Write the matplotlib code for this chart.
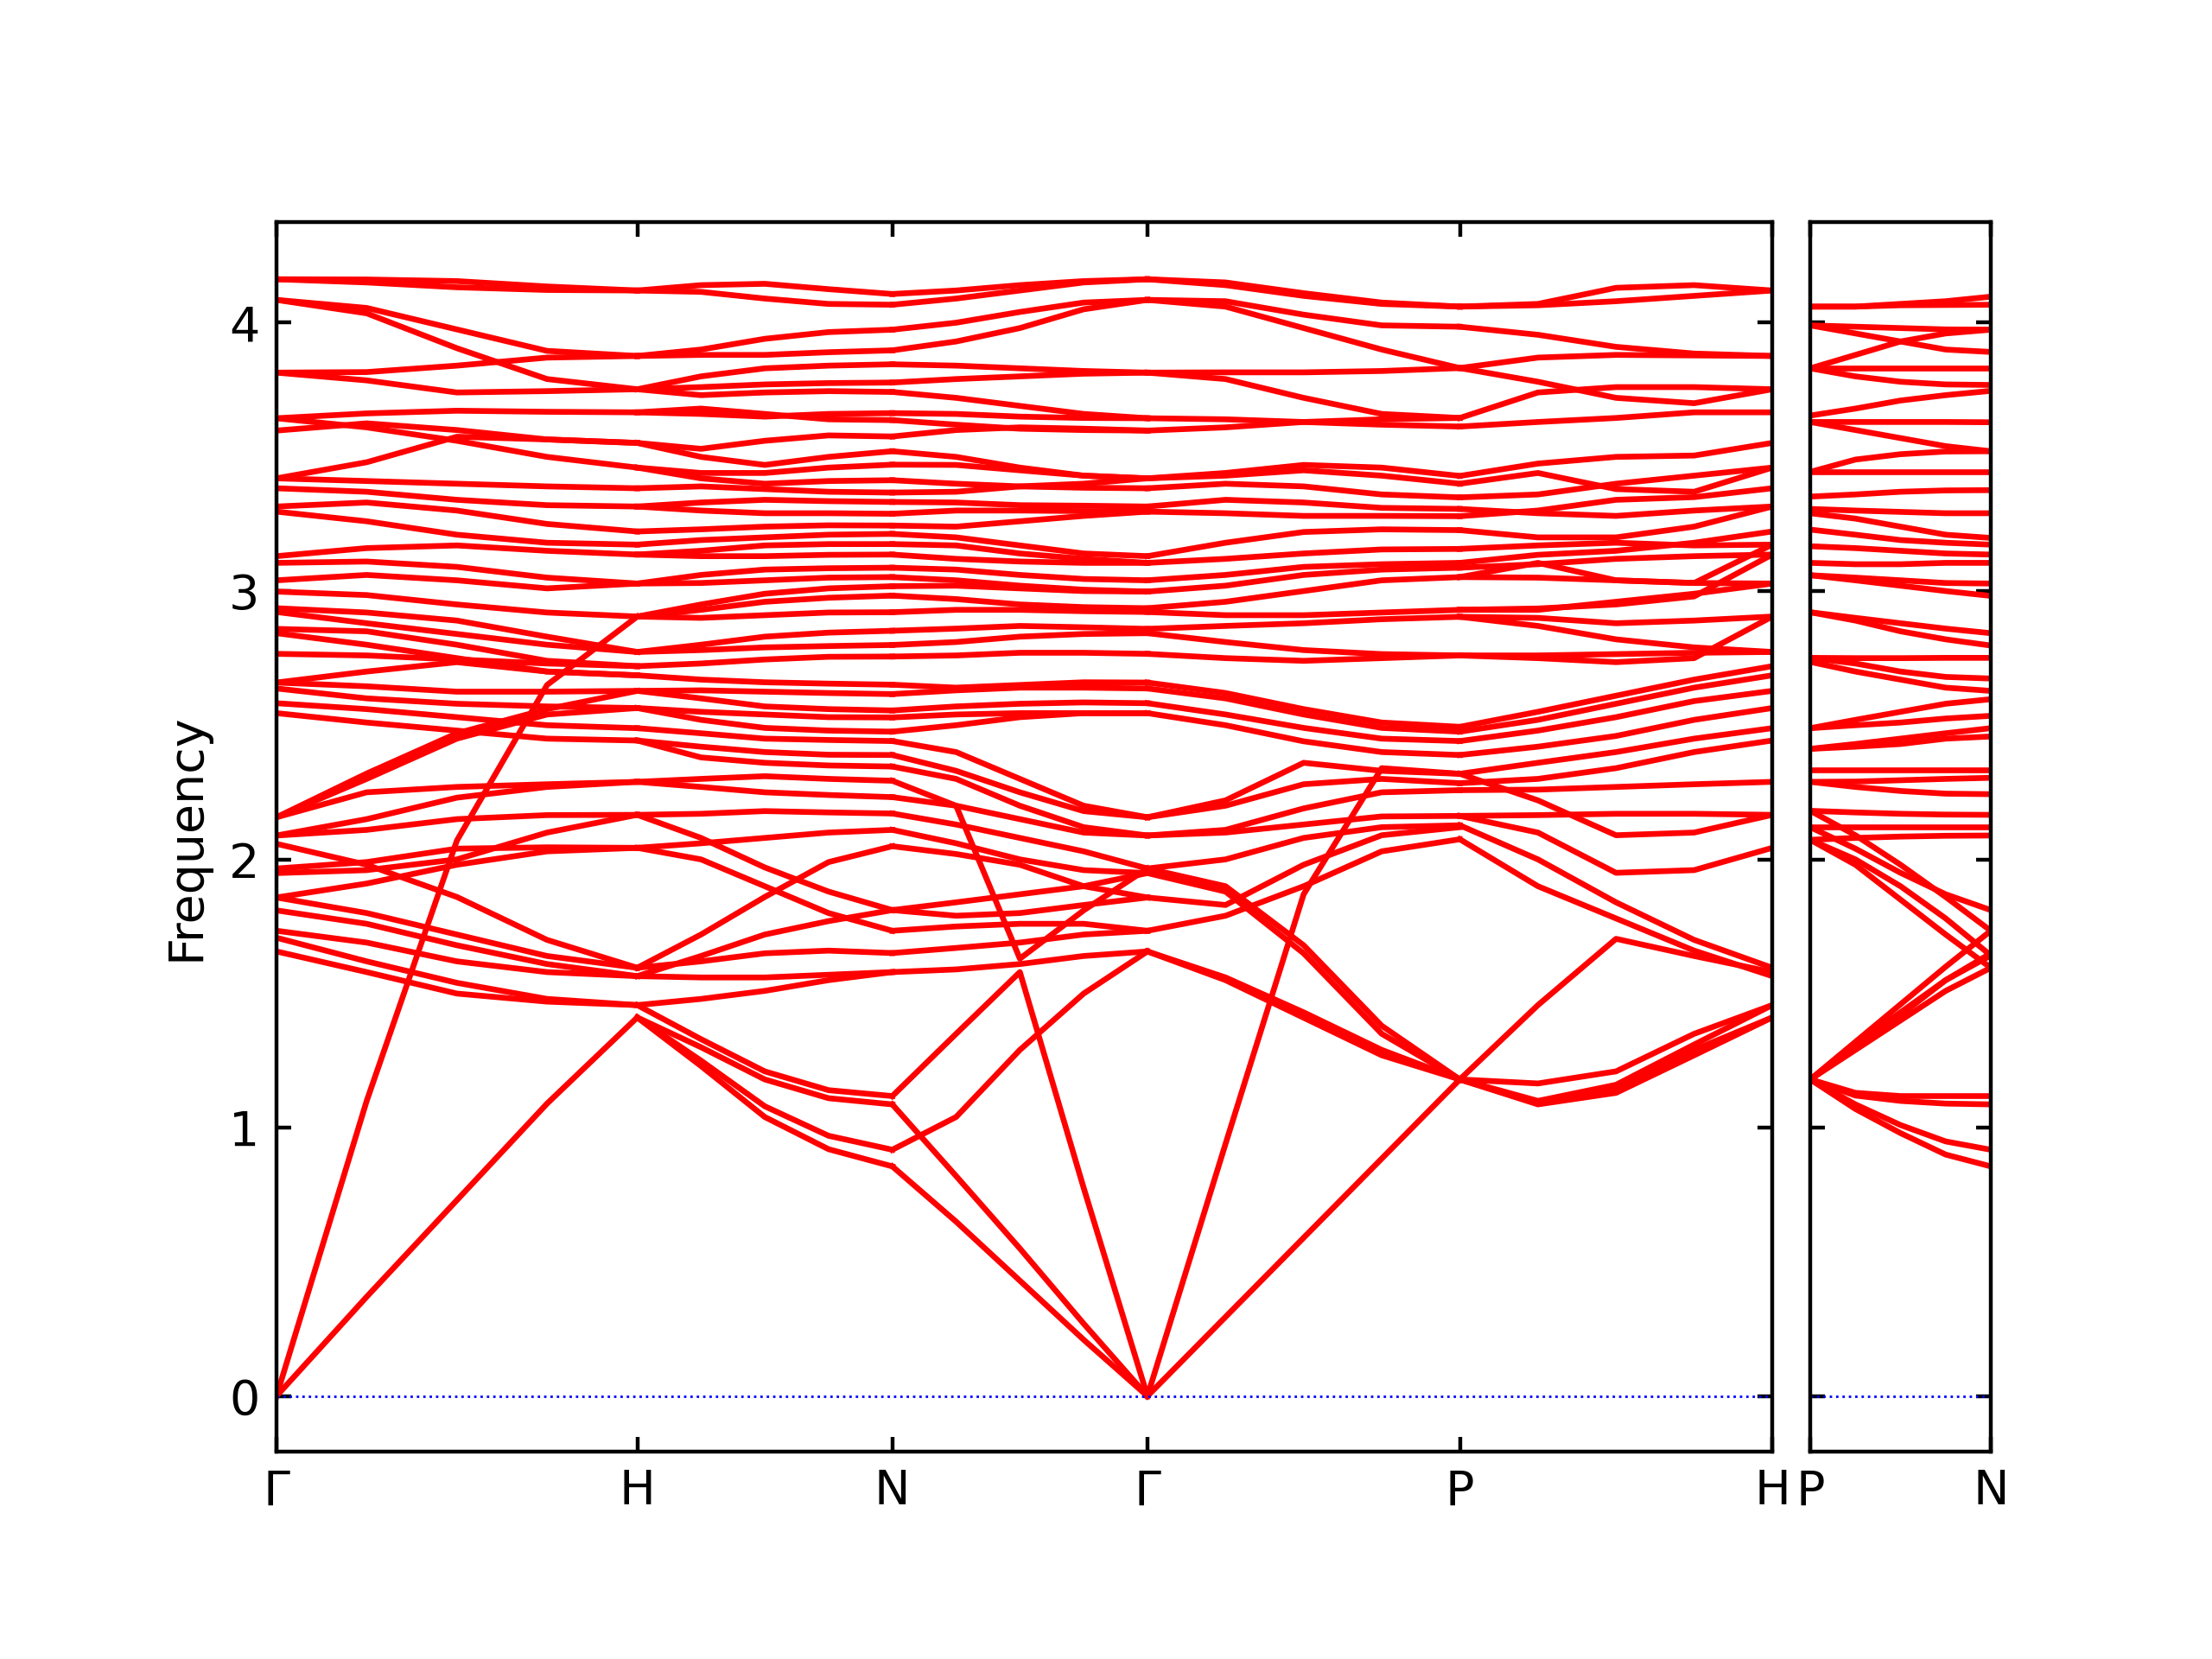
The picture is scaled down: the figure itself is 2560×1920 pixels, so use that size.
import numpy as np
import matplotlib.pyplot as plt

# path labels and segment lengths (2pi/a units, bcc)
labels_main = ['Γ', 'H', 'N', 'Γ', 'P', 'H']
seg_len = [1.0, 0.7071, 0.7071, 0.8660, 0.8660]
labels_side = ['P', 'N']
side_len = 0.5

# each band: frequency at 0, 1/4, 1/2, 3/4, 1 of the segment
frac = [0.0, 0.25, 0.5, 0.75, 1.0]

bands_gh = [
    [4.162, 4.161, 4.155, 4.135, 4.120],
    [4.162, 4.150, 4.132, 4.122, 4.120],
    [4.085, 4.055, 3.975, 3.895, 3.876],
    [4.085, 4.035, 3.905, 3.790, 3.752],
    [3.814, 3.816, 3.840, 3.870, 3.876],
    [3.814, 3.785, 3.740, 3.745, 3.752],
    [3.644, 3.662, 3.672, 3.668, 3.666],
    [3.644, 3.610, 3.560, 3.500, 3.460],
    [3.598, 3.625, 3.600, 3.565, 3.552],
    [3.420, 3.480, 3.575, 3.565, 3.552],
    [3.420, 3.410, 3.400, 3.390, 3.383],
    [3.383, 3.370, 3.340, 3.320, 3.315],
    [3.315, 3.330, 3.300, 3.250, 3.222],
    [3.296, 3.260, 3.210, 3.180, 3.173],
    [3.130, 3.160, 3.170, 3.150, 3.136],
    [3.105, 3.110, 3.090, 3.050, 3.028],
    [3.040, 3.060, 3.040, 3.010, 3.028],
    [2.998, 2.985, 2.950, 2.920, 2.905],
    [2.936, 2.920, 2.890, 2.830, 2.773],
    [2.922, 2.880, 2.840, 2.800, 2.773],
    [2.859, 2.850, 2.800, 2.740, 2.720],
    [2.843, 2.800, 2.750, 2.700, 2.686],
    [2.766, 2.760, 2.745, 2.730, 2.720],
    [2.659, 2.700, 2.735, 2.700, 2.686],
    [2.659, 2.645, 2.625, 2.625, 2.628],
    [2.637, 2.600, 2.580, 2.570, 2.564],
    [2.582, 2.560, 2.530, 2.500, 2.489],
    [2.545, 2.510, 2.480, 2.450, 2.443],
    [2.157, 2.320, 2.470, 2.560, 2.628],
    [2.157, 2.300, 2.450, 2.540, 2.564],
    [2.157, 2.250, 2.270, 2.280, 2.289],
    [2.089, 2.150, 2.230, 2.270, 2.289],
    [2.089, 2.110, 2.150, 2.165, 2.166],
    [2.058, 1.980, 1.860, 1.700, 1.596],
    [1.966, 1.990, 2.040, 2.045, 2.043],
    [1.949, 1.960, 2.000, 2.100, 2.166],
    [1.858, 1.910, 1.980, 2.030, 2.043],
    [1.858, 1.800, 1.720, 1.640, 1.596],
    [1.810, 1.760, 1.680, 1.610, 1.565],
    [1.734, 1.690, 1.620, 1.580, 1.565],
    [1.708, 1.620, 1.540, 1.480, 1.457],
    [1.657, 1.580, 1.500, 1.470, 1.457],
    [0.000, 1.100, 2.070, 2.650, 2.905],
    [0.000, 0.370, 0.730, 1.090, 1.411],
]

bands_hn = [
    [4.120, 4.140, 4.145, 4.125, 4.107],
    [4.120, 4.115, 4.090, 4.070, 4.067],
    [3.876, 3.900, 3.940, 3.965, 3.974],
    [3.876, 3.880, 3.880, 3.890, 3.897],
    [3.752, 3.800, 3.830, 3.840, 3.845],
    [3.752, 3.760, 3.770, 3.775, 3.777],
    [3.752, 3.730, 3.740, 3.745, 3.742],
    [3.666, 3.660, 3.650, 3.660, 3.663],
    [3.666, 3.680, 3.660, 3.640, 3.637],
    [3.552, 3.530, 3.560, 3.580, 3.576],
    [3.552, 3.500, 3.470, 3.500, 3.521],
    [3.460, 3.440, 3.440, 3.460, 3.471],
    [3.460, 3.420, 3.400, 3.410, 3.413],
    [3.383, 3.390, 3.380, 3.370, 3.367],
    [3.315, 3.330, 3.340, 3.335, 3.332],
    [3.315, 3.300, 3.290, 3.290, 3.288],
    [3.222, 3.230, 3.240, 3.245, 3.244],
    [3.173, 3.190, 3.200, 3.210, 3.213],
    [3.136, 3.150, 3.170, 3.175, 3.175],
    [3.136, 3.130, 3.130, 3.135, 3.136],
    [3.028, 3.060, 3.080, 3.085, 3.087],
    [3.028, 3.030, 3.040, 3.050, 3.052],
    [2.905, 2.950, 2.990, 3.010, 3.018],
    [2.905, 2.930, 2.960, 2.975, 2.983],
    [2.905, 2.900, 2.910, 2.920, 2.921],
    [2.773, 2.800, 2.830, 2.845, 2.852],
    [2.773, 2.780, 2.790, 2.795, 2.799],
    [2.720, 2.730, 2.745, 2.755, 2.756],
    [2.686, 2.670, 2.660, 2.655, 2.651],
    [2.628, 2.630, 2.625, 2.620, 2.616],
    [2.628, 2.600, 2.570, 2.560, 2.555],
    [2.564, 2.550, 2.540, 2.530, 2.529],
    [2.564, 2.520, 2.490, 2.480, 2.476],
    [2.489, 2.470, 2.450, 2.445, 2.441],
    [2.443, 2.420, 2.400, 2.390, 2.389],
    [2.443, 2.380, 2.360, 2.350, 2.346],
    [2.289, 2.300, 2.310, 2.300, 2.293],
    [2.289, 2.270, 2.250, 2.240, 2.232],
    [2.166, 2.080, 1.970, 1.880, 1.811],
    [2.166, 2.170, 2.180, 2.175, 2.171],
    [2.043, 2.060, 2.080, 2.100, 2.110],
    [2.043, 2.000, 1.900, 1.800, 1.734],
    [1.596, 1.720, 1.860, 1.990, 2.049],
    [1.565, 1.640, 1.720, 1.770, 1.811],
    [1.596, 1.620, 1.650, 1.660, 1.651],
    [1.565, 1.560, 1.560, 1.570, 1.580],
    [1.457, 1.480, 1.510, 1.550, 1.580],
    [1.457, 1.330, 1.210, 1.140, 1.118],
    [1.411, 1.300, 1.180, 1.110, 1.087],
    [1.411, 1.250, 1.080, 0.970, 0.918],
    [1.411, 1.230, 1.040, 0.920, 0.856],
]

bands_ng = [
    [4.107, 4.120, 4.140, 4.155, 4.162],
    [4.067, 4.090, 4.120, 4.150, 4.162],
    [3.974, 4.000, 4.040, 4.075, 4.085],
    [3.897, 3.930, 3.980, 4.050, 4.085],
    [3.845, 3.840, 3.830, 3.820, 3.814],
    [3.777, 3.790, 3.800, 3.810, 3.814],
    [3.742, 3.720, 3.690, 3.660, 3.644],
    [3.663, 3.660, 3.650, 3.645, 3.644],
    [3.637, 3.620, 3.605, 3.600, 3.598],
    [3.576, 3.600, 3.610, 3.605, 3.598],
    [3.521, 3.500, 3.460, 3.430, 3.420],
    [3.471, 3.470, 3.450, 3.430, 3.420],
    [3.413, 3.400, 3.390, 3.385, 3.383],
    [3.367, 3.370, 3.390, 3.400, 3.420],
    [3.332, 3.330, 3.320, 3.318, 3.315],
    [3.288, 3.300, 3.300, 3.298, 3.296],
    [3.244, 3.240, 3.260, 3.280, 3.296],
    [3.213, 3.200, 3.170, 3.140, 3.130],
    [3.175, 3.170, 3.140, 3.120, 3.105],
    [3.136, 3.120, 3.110, 3.105, 3.105],
    [3.087, 3.080, 3.060, 3.045, 3.040],
    [3.052, 3.040, 3.020, 3.005, 2.998],
    [3.018, 3.020, 3.010, 3.000, 2.998],
    [2.983, 2.970, 2.950, 2.940, 2.936],
    [2.921, 2.930, 2.930, 2.925, 2.922],
    [2.852, 2.860, 2.870, 2.865, 2.859],
    [2.799, 2.810, 2.830, 2.840, 2.843],
    [2.756, 2.760, 2.770, 2.770, 2.766],
    [2.651, 2.640, 2.650, 2.660, 2.659],
    [2.616, 2.630, 2.640, 2.640, 2.637],
    [2.555, 2.570, 2.580, 2.585, 2.582],
    [2.529, 2.540, 2.545, 2.545, 2.545],
    [2.476, 2.500, 2.530, 2.545, 2.545],
    [2.441, 2.400, 2.300, 2.200, 2.157],
    [2.389, 2.330, 2.250, 2.180, 2.157],
    [2.346, 2.300, 2.200, 2.120, 2.089],
    [2.293, 2.200, 1.630, 1.810, 1.966],
    [2.232, 2.200, 2.150, 2.100, 2.089],
    [2.171, 2.130, 2.080, 2.030, 1.966],
    [2.110, 2.060, 2.000, 1.960, 1.949],
    [2.049, 2.020, 1.980, 1.900, 1.858],
    [1.811, 1.840, 1.870, 1.900, 1.949],
    [1.811, 1.790, 1.800, 1.830, 1.858],
    [1.734, 1.750, 1.760, 1.760, 1.734],
    [1.651, 1.670, 1.690, 1.720, 1.734],
    [1.580, 1.590, 1.610, 1.640, 1.657],
    [1.118, 1.350, 1.580, 0.776, 0.000],
    [0.918, 1.040, 1.290, 1.500, 1.657],
    [1.087, 0.820, 0.550, 0.270, 0.000],
    [0.856, 0.650, 0.430, 0.210, 0.000],
]

bands_gp = [
    [4.162, 4.150, 4.110, 4.075, 4.060],
    [4.162, 4.140, 4.100, 4.070, 4.060],
    [4.085, 4.080, 4.030, 3.990, 3.985],
    [4.085, 4.060, 3.980, 3.900, 3.831],
    [3.814, 3.815, 3.815, 3.820, 3.831],
    [3.814, 3.790, 3.720, 3.660, 3.645],
    [3.644, 3.640, 3.630, 3.620, 3.613],
    [3.598, 3.610, 3.630, 3.640, 3.645],
    [3.420, 3.440, 3.470, 3.460, 3.429],
    [3.420, 3.430, 3.450, 3.430, 3.400],
    [3.383, 3.400, 3.390, 3.360, 3.349],
    [3.315, 3.340, 3.330, 3.310, 3.306],
    [3.296, 3.290, 3.280, 3.280, 3.279],
    [3.130, 3.180, 3.220, 3.230, 3.227],
    [3.105, 3.120, 3.140, 3.155, 3.157],
    [3.040, 3.060, 3.090, 3.100, 3.105],
    [2.998, 3.020, 3.060, 3.080, 3.087],
    [2.936, 2.960, 3.000, 3.040, 3.052],
    [2.922, 2.910, 2.910, 2.920, 2.930],
    [2.859, 2.870, 2.880, 2.895, 2.904],
    [2.843, 2.810, 2.780, 2.765, 2.760],
    [2.766, 2.750, 2.740, 2.750, 2.760],
    [2.659, 2.620, 2.560, 2.510, 2.494],
    [2.637, 2.600, 2.540, 2.490, 2.476],
    [2.582, 2.540, 2.490, 2.450, 2.441],
    [2.545, 2.500, 2.440, 2.400, 2.389],
    [2.157, 2.220, 2.360, 2.330, 2.319],
    [2.157, 2.200, 2.280, 2.300, 2.284],
    [2.089, 2.110, 2.190, 2.250, 2.258],
    [2.089, 2.100, 2.130, 2.160, 2.162],
    [1.966, 2.000, 2.080, 2.120, 2.127],
    [1.858, 1.830, 1.980, 2.090, 2.120],
    [1.734, 1.790, 1.900, 2.030, 2.075],
    [1.949, 1.880, 1.650, 1.350, 1.180],
    [1.966, 1.900, 1.680, 1.380, 1.180],
    [1.657, 1.560, 1.430, 1.290, 1.180],
    [1.657, 1.550, 1.410, 1.270, 1.180],
    [0.000, 0.940, 1.870, 2.340, 2.319],
    [0.000, 0.295, 0.590, 0.885, 1.180],
]

bands_ph = [
    [4.060, 4.070, 4.130, 4.140, 4.120],
    [4.060, 4.065, 4.080, 4.100, 4.120],
    [3.985, 3.955, 3.910, 3.885, 3.876],
    [3.831, 3.870, 3.880, 3.878, 3.876],
    [3.831, 3.780, 3.720, 3.700, 3.752],
    [3.645, 3.740, 3.760, 3.760, 3.752],
    [3.613, 3.630, 3.645, 3.666, 3.666],
    [3.429, 3.475, 3.500, 3.505, 3.552],
    [3.400, 3.440, 3.380, 3.370, 3.460],
    [3.349, 3.360, 3.400, 3.430, 3.460],
    [3.279, 3.300, 3.340, 3.350, 3.383],
    [3.306, 3.290, 3.280, 3.300, 3.315],
    [3.227, 3.200, 3.200, 3.240, 3.315],
    [3.105, 3.135, 3.150, 3.180, 3.222],
    [3.157, 3.170, 3.180, 3.170, 3.173],
    [3.087, 3.100, 3.120, 3.130, 3.136],
    [3.052, 3.105, 3.040, 3.030, 3.173],
    [3.052, 3.050, 3.040, 3.030, 3.028],
    [2.930, 2.935, 2.950, 2.980, 3.136],
    [2.930, 2.930, 2.960, 2.990, 3.028],
    [2.904, 2.900, 2.880, 2.890, 2.905],
    [2.904, 2.870, 2.820, 2.790, 2.773],
    [2.760, 2.750, 2.735, 2.750, 2.905],
    [2.760, 2.760, 2.765, 2.770, 2.773],
    [2.494, 2.550, 2.610, 2.670, 2.720],
    [2.476, 2.520, 2.580, 2.640, 2.686],
    [2.441, 2.480, 2.530, 2.590, 2.628],
    [2.389, 2.420, 2.460, 2.520, 2.564],
    [2.319, 2.360, 2.400, 2.450, 2.489],
    [2.284, 2.300, 2.340, 2.400, 2.443],
    [2.258, 2.260, 2.270, 2.280, 2.289],
    [2.319, 2.220, 2.090, 2.100, 2.166],
    [2.162, 2.165, 2.170, 2.170, 2.166],
    [2.162, 2.100, 1.950, 1.960, 2.043],
    [2.127, 2.000, 1.840, 1.700, 1.596],
    [2.075, 1.900, 1.780, 1.660, 1.565],
    [1.180, 1.457, 1.704, 1.640, 1.580],
    [1.180, 1.165, 1.210, 1.350, 1.457],
    [1.180, 1.100, 1.160, 1.310, 1.457],
    [1.180, 1.090, 1.140, 1.290, 1.411],
    [1.180, 1.087, 1.130, 1.270, 1.411],
]

bands_pn = [
    [4.060, 4.060, 4.070, 4.080, 4.097],
    [4.060, 4.060, 4.065, 4.066, 4.067],
    [3.990, 3.985, 3.980, 3.975, 3.974],
    [3.990, 3.960, 3.930, 3.900, 3.891],
    [3.830, 3.880, 3.930, 3.960, 3.974],
    [3.830, 3.830, 3.830, 3.830, 3.830],
    [3.830, 3.800, 3.780, 3.770, 3.768],
    [3.654, 3.680, 3.710, 3.730, 3.746],
    [3.630, 3.630, 3.630, 3.630, 3.629],
    [3.630, 3.600, 3.570, 3.540, 3.521],
    [3.444, 3.490, 3.510, 3.520, 3.521],
    [3.444, 3.444, 3.444, 3.444, 3.444],
    [3.352, 3.360, 3.370, 3.375, 3.376],
    [3.306, 3.300, 3.295, 3.290, 3.290],
    [3.290, 3.270, 3.240, 3.210, 3.198],
    [3.229, 3.210, 3.190, 3.180, 3.173],
    [3.167, 3.160, 3.150, 3.140, 3.136],
    [3.105, 3.100, 3.100, 3.105, 3.105],
    [3.059, 3.050, 3.040, 3.030, 3.028],
    [3.059, 3.040, 3.020, 3.000, 2.982],
    [2.921, 2.900, 2.880, 2.860, 2.843],
    [2.921, 2.890, 2.850, 2.820, 2.797],
    [2.751, 2.750, 2.750, 2.751, 2.751],
    [2.751, 2.730, 2.700, 2.680, 2.674],
    [2.736, 2.700, 2.670, 2.640, 2.628],
    [2.489, 2.520, 2.550, 2.580, 2.597],
    [2.489, 2.500, 2.510, 2.525, 2.535],
    [2.412, 2.430, 2.450, 2.470, 2.489],
    [2.412, 2.420, 2.430, 2.450, 2.458],
    [2.335, 2.335, 2.335, 2.335, 2.335],
    [2.289, 2.290, 2.295, 2.300, 2.304],
    [2.289, 2.270, 2.255, 2.245, 2.243],
    [2.181, 2.175, 2.170, 2.167, 2.166],
    [2.120, 2.120, 2.120, 2.120, 2.120],
    [2.073, 2.080, 2.085, 2.088, 2.089],
    [2.181, 2.090, 1.980, 1.860, 1.734],
    [2.120, 2.040, 1.950, 1.870, 1.811],
    [2.073, 2.000, 1.900, 1.780, 1.642],
    [2.073, 1.980, 1.850, 1.720, 1.596],
    [1.180, 1.320, 1.460, 1.600, 1.734],
    [1.180, 1.310, 1.430, 1.550, 1.642],
    [1.180, 1.300, 1.420, 1.550, 1.650],
    [1.180, 1.290, 1.400, 1.510, 1.596],
    [1.180, 1.130, 1.118, 1.118, 1.118],
    [1.180, 1.120, 1.100, 1.090, 1.087],
    [1.180, 1.087, 1.010, 0.949, 0.918],
    [1.180, 1.070, 0.980, 0.900, 0.856],
]

ymin, ymax = -0.207, 4.376

fig = plt.figure(figsize=(6.4, 4.8), dpi=400)
ax = fig.add_axes([0.125, 0.125, 0.6762, 0.7413])
ax2 = fig.add_axes([0.8184, 0.125, 0.0816, 0.7413])

knots = np.concatenate([[0], np.cumsum(seg_len)])
frac = np.array(frac)
for i, seg in enumerate([bands_gh, bands_hn, bands_ng, bands_gp, bands_ph]):
    x = knots[i] + frac * seg_len[i]
    for b in seg:
        ax.plot(x, b, color='r', lw=1.2)

for b in bands_pn:
    ax2.plot(frac * side_len, b, color='r', lw=1.2)

ax.plot([0, knots[-1]], [0, 0], color='b', ls=':', lw=0.5)
ax2.plot([0, side_len], [0, 0], color='b', ls=':', lw=0.5)

ax.set_xlim(0, knots[-1])
ax.set_ylim(ymin, ymax)
ax.set_xticks(knots)
ax.set_xticklabels(labels_main)
ax.set_yticks([0, 1, 2, 3, 4])
ax.set_ylabel('Frequency')

ax2.set_xlim(0, side_len)
ax2.set_ylim(ymin, ymax)
ax2.set_xticks([0, side_len])
ax2.set_xticklabels(labels_side)
ax2.set_yticks([0, 1, 2, 3, 4])
ax2.set_yticklabels([])

for a in (ax, ax2):
    a.tick_params(axis='both', direction='in', length=3, top=True, right=True, labelsize=10)

fig.savefig('out.png', dpi=400)
